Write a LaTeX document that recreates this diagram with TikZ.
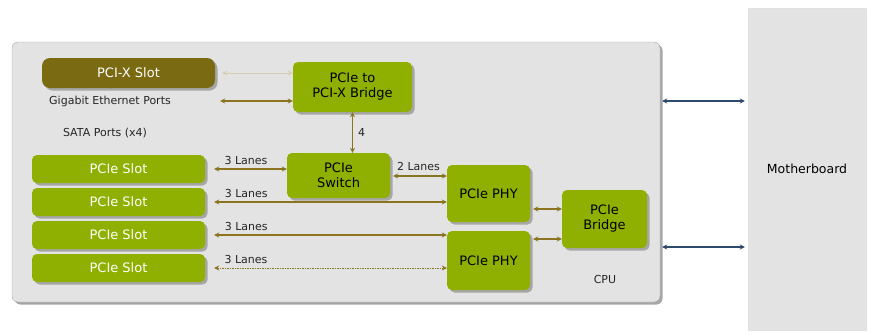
\documentclass[tikz,border=0pt]{standalone}
\usepackage{fontspec}
\setmainfont{DejaVu Sans}
\usetikzlibrary{arrows.meta,shadows,positioning}
\definecolor{pcigreen}{HTML}{8FB000}
\definecolor{slotolive}{HTML}{7A6A12}
\definecolor{lanecol}{HTML}{8A7420}
\definecolor{hostblue}{HTML}{2E4A6A}
\definecolor{panelgray}{HTML}{E3E3E3}
\tikzset{
  boxshadow/.style={drop shadow={shadow xshift=2.5pt,shadow yshift=-2.5pt,fill=black!35,opacity=1}},
  chip/.style={fill=pcigreen, rounded corners=5pt, align=center, inner sep=0pt, boxshadow,
    font=\fontsize{13}{15}\selectfont},
  slotbox/.style={chip, text=white, minimum width=173pt, minimum height=28pt},
  lane/.style={draw=lanecol, line width=1.3pt, {Stealth[length=5pt,width=5pt]}-{Stealth[length=5pt,width=5pt]}},
  host/.style={draw=hostblue, line width=1.3pt, {Stealth[length=5pt,width=5pt]}-{Stealth[length=5pt,width=5pt]}},
  lbl/.style={font=\fontsize{11}{13}\selectfont, text=black!85, inner sep=1pt},
}
\begin{document}
\begin{tikzpicture}[x=1pt,y=-1pt]
	\useasboundingbox (0,0) rectangle (871,335);
	\node [draw=black!35, fill=panelgray, rounded corners=6pt, minimum width=648pt, minimum height=260pt, boxshadow] (board) at (336,172) {};
	\node [draw=black!12, fill=panelgray, minimum width=118pt, minimum height=322pt, font=\fontsize{12.5}{14}\selectfont] (mobo) at (807,169) {Motherboard};
	\node [chip, fill=slotolive, text=white, minimum width=173pt, minimum height=30pt, rounded corners=8pt] (pcix) at (128.5,73) {PCI-X Slot};
	\node [lbl] (gbe) at (110,101) {Gigabit Ethernet Ports};
	\node [lbl] (sata) at (105,133) {SATA Ports (x4)};
	\node [chip, minimum width=119pt, minimum height=50pt] (pcixbridge) at (352.5,87) {PCIe to\\PCI-X Bridge};
	\node [chip, minimum width=103pt, minimum height=45pt] (switch) at (338.5,175.5) {PCIe\\Switch};
	\node [slotbox] (slot1) at (118.5,169) {PCIe Slot};
	\node [slotbox] (slot2) at (118.5,202) {PCIe Slot};
	\node [slotbox] (slot3) at (118.5,235) {PCIe Slot};
	\node [slotbox] (slot4) at (118.5,268) {PCIe Slot};
	\node [chip, minimum width=83pt, minimum height=57pt] (phy1) at (488.5,193.5) {PCIe PHY};
	\node [chip, minimum width=83pt, minimum height=59pt] (phy2) at (488.5,260.5) {PCIe PHY};
	\node [chip, minimum width=85pt, minimum height=58pt] (pciebridge) at (604.5,219) {PCIe\\Bridge};
	\node [lbl] (cpu) at (605,279) {CPU};
	\draw[lane, draw=lanecol!35, line width=0.7pt, shorten <=7pt] (pcix.east) -- (pcix.east -| pcixbridge.west);
	\draw[lane, shorten >=5pt] ([yshift=-14pt]pcixbridge.west) -- ([yshift=-14pt]pcixbridge.west -| pcix.east);
	\draw[lane] (pcixbridge.south) -- (pcixbridge.south |- switch.north) node[lbl, midway, right=4pt] {4};
	\draw[lane, shorten <=9pt] (slot1.east) -- (slot1.east -| switch.west) node[lbl, midway, above=3pt] {3 Lanes};
	\draw[lane, shorten <=3pt] ([yshift=-0.5pt]switch.east) -- ([yshift=-0.5pt]switch.east -| phy1.west) node[lbl, midway, above=4pt] {2 Lanes};
	\draw[lane, shorten <=9pt] (slot2.east) -- (slot2.east -| phy1.west) node[lbl, at start, above right=3pt and 18pt] {3 Lanes};
	\draw[lane, shorten <=9pt] (slot3.east) -- (slot3.east -| phy2.west) node[lbl, at start, above right=3pt and 18pt] {3 Lanes};
	\draw[lane, line width=0.8pt, dash pattern=on 1.5pt off 1pt, shorten <=9pt] (slot4.east) -- (slot4.east -| phy2.west) node[lbl, at start, above right=3pt and 18pt] {3 Lanes};
	\draw[lane, shorten <=3pt] ([yshift=-15.5pt]phy1.east) -- ([yshift=-15.5pt]phy1.east -| pciebridge.west);
	\draw[lane, shorten <=3pt] ([yshift=21.5pt]phy2.east) -- ([yshift=21.5pt]phy2.east -| pciebridge.west);
	\draw[host, shorten <=2pt, shorten >=3pt] ([yshift=71pt]board.east) -- ([yshift=71pt]board.east -| mobo.west);
	\draw[host, shorten <=2pt, shorten >=3pt] ([yshift=-75pt]board.east) -- ([yshift=-75pt]board.east -| mobo.west);
\end{tikzpicture}
\end{document}
